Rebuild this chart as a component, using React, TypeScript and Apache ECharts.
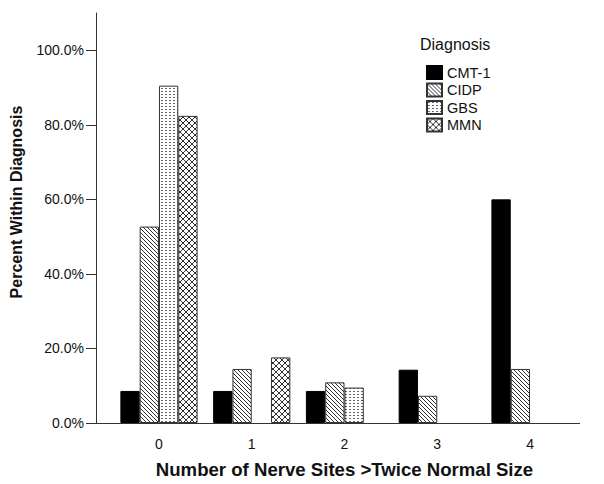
import React, { useEffect, useRef } from "react";
import * as echarts from "echarts";

const categories = ["0", "1", "2", "3", "4"];
const seriesNames = ["CMT-1", "CIDP", "GBS", "MMN"];
const cmt1 = [8.6, 8.6, 8.6, 14.3, 60.0];
const cidp = [52.7, 14.5, 10.9, 7.3, 14.5];
const gbs = [90.5, null, 9.5, null, null];
const mmn = [82.4, 17.6, null, null, null];
const yTicks = [0, 20, 40, 60, 80, 100];

const FONT = "'Liberation Sans', Arial, Helvetica, sans-serif";

function makeTile(w: number, h: number, draw: (ctx: CanvasRenderingContext2D) => void) {
  const c = document.createElement("canvas");
  c.width = w;
  c.height = h;
  const ctx = c.getContext("2d")!;
  ctx.fillStyle = "#ffffff";
  ctx.fillRect(0, 0, w, h);
  draw(ctx);
  return { image: c, repeat: "repeat", imageWidth: w, imageHeight: h } as any;
}

export default function App() {
  const ref = useRef<HTMLDivElement>(null);
  useEffect(() => {
    if (!ref.current) return;
    const chart = echarts.init(ref.current, null, { renderer: "svg" });

    const diag = makeTile(4, 4, (ctx) => {
      ctx.fillStyle = "#333";
      for (let i = 0; i < 4; i++) ctx.fillRect(i, i, 1, 1);
    });
    const dots = makeTile(4, 3, (ctx) => {
      ctx.fillStyle = "#666";
      ctx.fillRect(1, 1, 2, 1);
    });
    const cross = makeTile(6, 6, (ctx) => {
      ctx.fillStyle = "#333";
      for (let i = 0; i < 6; i++) {
        ctx.fillRect(i, i, 1, 1);
        ctx.fillRect(i, 5 - i, 1, 1);
      }
    });

    const fills = [
      { color: "#000000", borderColor: "#000000" },
      { color: diag, borderColor: "#333333" },
      { color: dots, borderColor: "#333333" },
      { color: cross, borderColor: "#333333" },
    ];
    const values = [cmt1, cidp, gbs, mmn];

    const option: any = {
      animation: false,
      textStyle: { fontFamily: FONT },
      grid: { left: 112.6, right: 27.6, top: 13, bottom: 61, containLabel: false },
      legend: {
        orient: "vertical",
        left: 426,
        top: 65,
        padding: 0,
        itemWidth: 15,
        itemHeight: 13,
        itemGap: 2.5,
        icon: "rect",
        data: seriesNames,
        textStyle: { fontFamily: FONT, fontSize: 14.5, color: "#111" },
      },
      xAxis: {
        type: "category",
        data: categories,
        axisTick: { show: false },
        axisLine: { lineStyle: { color: "#333", width: 1 } },
        axisLabel: { margin: 14, fontSize: 14, color: "#111", fontFamily: FONT },
        name: "Number of Nerve Sites >Twice Normal Size",
        nameLocation: "middle",
        nameGap: 37,
        nameTextStyle: { fontSize: 18.6, fontWeight: "bold", color: "#111", fontFamily: FONT },
      },
      yAxis: {
        type: "value",
        min: 0,
        max: 110,
        offset: 16.6,
        axisLine: { show: true, lineStyle: { color: "#333", width: 1 } },
        axisTick: { show: true, length: 10, customValues: yTicks, lineStyle: { color: "#333" } },
        axisLabel: {
          customValues: yTicks,
          margin: 12,
          fontSize: 14,
          color: "#111",
          fontFamily: FONT,
          formatter: (v: number) => v.toFixed(1) + "%",
        },
        splitLine: { show: false },
      },
      graphic: [
        {
          type: "line",
          shape: { x1: 96, y1: 423.5, x2: 580, y2: 423.5 },
          style: { stroke: "#333", lineWidth: 1 },
          silent: true,
        },
        {
          type: "text",
          x: 16,
          y: 202,
          rotation: Math.PI / 2,
          style: {
            text: "Percent Within Diagnosis",
            font: `bold 16px ${FONT}`,
            fill: "#111",
            align: "center",
            verticalAlign: "middle",
          },
        },
        {
          type: "text",
          left: 420,
          top: 36,
          style: {
            text: "Diagnosis",
            font: `16px ${FONT}`,
            fill: "#111",
          },
        },
      ],
      series: seriesNames.map((name, i) => ({
        name,
        type: "bar",
        data: values[i],
        barWidth: 19.3,
        barGap: "0%",
        itemStyle: { color: fills[i].color, borderColor: fills[i].borderColor, borderWidth: 1 },
      })),
    };
    chart.setOption(option);
    return () => chart.dispose();
  }, []);
  return (
    <div
      ref={ref}
      style={{ position: "fixed", left: 0, top: 0, width: 604, height: 484, background: "#fff" }}
    />
  );
}
